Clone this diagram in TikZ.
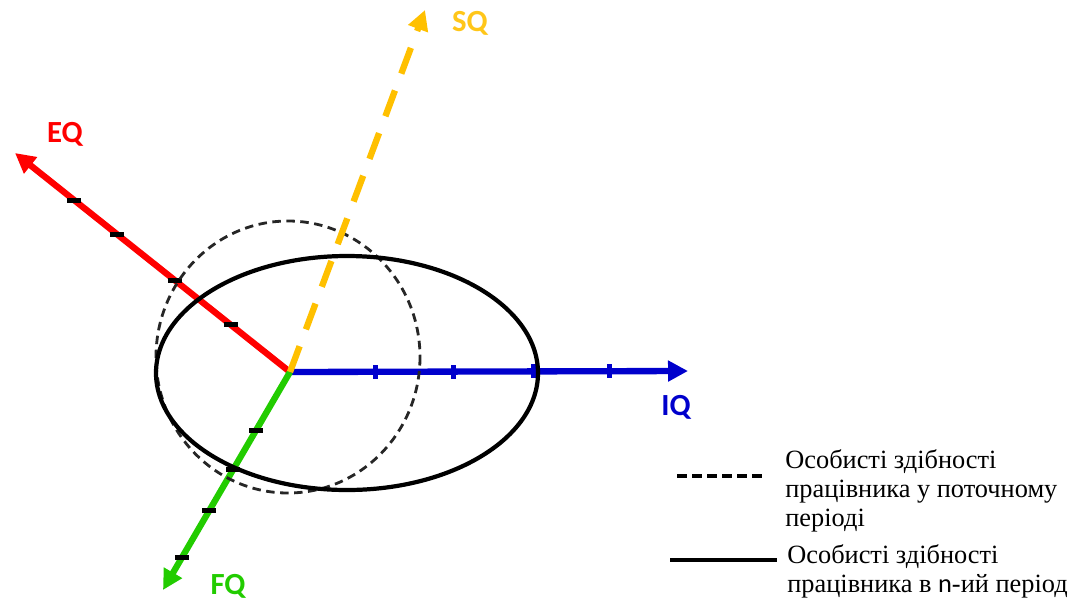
\documentclass[tikz,border=0pt]{standalone}
\usepackage{fontspec}
\setmainfont{Liberation Serif}
\newfontfamily\calib{Carlito}
\usepackage{xcolor}
\usetikzlibrary{arrows.meta}

\definecolor{eqred}{HTML}{FF0000}
\definecolor{sqgold}{HTML}{FFC000}
\definecolor{iqblue}{HTML}{0000CC}
\definecolor{fqgreen}{HTML}{22CC00}

\begin{document}
\begin{tikzpicture}[
    x=0.02cm, y=-0.02cm,
    axis/.style={line width=3.6pt, -{Triangle[length=0.4cm, width=0.4cm]}},
    axlabel/.style={font=\calib\fontsize{17.5}{17.5}\selectfont\bfseries, inner sep=0pt},
    htick/.style={fill=black, inner sep=0pt, minimum width=0.28cm, minimum height=0.1cm},
    vtick/.style={fill=iqblue, inner sep=0pt, minimum width=0.1cm, minimum height=0.28cm},
    legtext/.style={font=\fontsize{15}{16.5}\selectfont, align=left, inner sep=0pt, anchor=west}
]
\useasboundingbox (0,0) rectangle (1084,602);

% Coordinates
\coordinate (O) at (290,372);
\coordinate (EQend) at (15,153);
\coordinate (IQend) at (688,371);
\coordinate (FQend) at (163,590);
\coordinate (SQend) at (425,10);

% Axes
\draw[axis, eqred] (O) -- (EQend);
\draw[axis, iqblue] (O) -- (IQend);
\draw[axis, fqgreen] (O) -- (FQend);

% Ticks
\path (O) -- (EQend) foreach \f in {0.215,0.42,0.63,0.785} {node[htick, pos=\f] {}};
\path (O) -- (FQend) foreach \f in {0.27,0.445,0.635,0.85} {node[htick, pos=\f] {}};
\path (O) -- (IQend) foreach \f in {0.216,0.41,0.611,0.802} {node[vtick, pos=\f] {}};

% Abilities
\draw[line width=1.6pt, dash pattern=on 0.17cm off 0.11cm, black!85] (288,357) circle[x radius=132, y radius=136];
\draw[line width=2.4pt] (347,373) circle[x radius=191, y radius=117];

\draw[axis, sqgold, dash pattern=on 0.55cm off 0.36cm] (O) -- (SQend);

% Labels
\node[axlabel, eqred] (eq) at (65,134) {EQ};
\node[axlabel, sqgold!90!white] (sq) at (470,23) {SQ};
\node[axlabel, iqblue] (iq) at (676,407) {IQ};
\node[axlabel, fqgreen] (fq) at (228,586) {FQ};

% Legend
\coordinate (dashA) at (677,476);
\coordinate (dashB) at (763,476);
\coordinate (solidA) at (670,560);
\coordinate (solidB) at (777,560);
\draw[line width=2.2pt, dash pattern=on 0.2cm off 0.1cm] (dashA) -- (dashB);
\draw[line width=2.2pt] (solidA) -- (solidB);
\node[legtext] (cur) at (785,491) {Особисті здібності\\працівника у поточному\\періоді};
\node[legtext] (nth) at (787,571) {Особисті здібності\\працівника в {\calib n}-ий період};

\end{tikzpicture}
\end{document}
